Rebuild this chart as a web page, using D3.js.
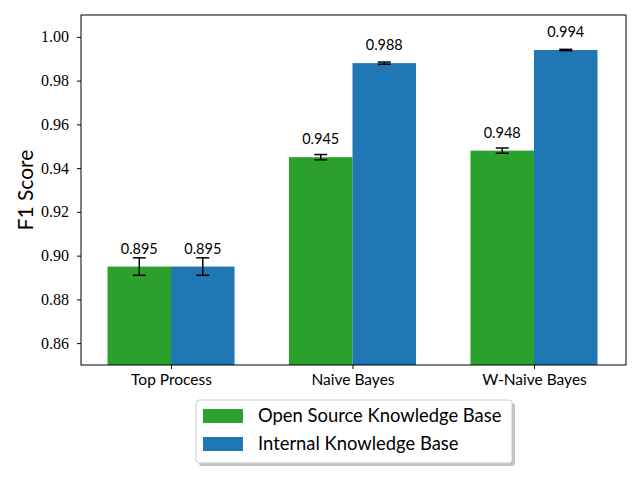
<!DOCTYPE html>
<html>
<head>
<meta charset="utf-8">
<script src="https://cdn.jsdelivr.net/npm/d3@7"></script>
<style>
  body { margin: 0; background: #fff; }
  svg { display: block; }
</style>
</head>
<body>
<div id="chart"></div>
<script>
// chart data
const categories = ["Top Process", "Naive Bayes", "W-Naive Bayes"];
const seriesNames = ["Open Source Knowledge Base", "Internal Knowledge Base"];
const openSource = [0.895, 0.945, 0.948];
const openSourceErr = [0.004, 0.0012, 0.0012];
const internal = [0.895, 0.988, 0.994];
const internalErr = [0.004, 0.0005, 0.0003];
const yTicks = [0.86, 0.88, 0.90, 0.92, 0.94, 0.96, 0.98, 1.00];
const colors = ["#2ca02c", "#1f77b4"];

const width = 640, height = 480;
const marginLeft = 81, marginRight = 14, marginTop = 15, marginBottom = 115;
const serif = "Liberation Serif";
const sans = "Lato";

const svg = d3.select("#chart").append("svg")
  .attr("width", width)
  .attr("height", height);

// x is a numeric scale like matplotlib: group centers at 0,1,2, bars width 0.35
const x = d3.scaleLinear()
  .domain([-0.496, 2.507])
  .range([marginLeft, width - marginRight]);
const barW = 0.35;

const y = d3.scaleLinear()
  .domain([0.85, 1.01])
  .range([height - marginBottom, marginTop]);

const series = [
  { name: seriesNames[0], values: openSource, errs: openSourceErr, offset: -barW / 2, color: colors[0] },
  { name: seriesNames[1], values: internal, errs: internalErr, offset: barW / 2, color: colors[1] }
];

// bars
series.forEach(s => {
  const g = svg.append("g");
  const rows = categories.map((c, i) => ({ i, v: s.values[i], e: s.errs[i] }));
  g.selectAll("rect")
    .data(rows)
    .join("rect")
    .attr("x", d => x(d.i + s.offset - barW / 2))
    .attr("width", d => x(barW) - x(0))
    .attr("y", d => y(d.v))
    .attr("height", d => y(0.85) - y(d.v))
    .attr("fill", s.color);

  // error bars
  const eb = g.append("g").attr("stroke", "#000").attr("stroke-width", 1.5);
  eb.selectAll("line.v")
    .data(rows)
    .join("line")
    .attr("x1", d => x(d.i + s.offset))
    .attr("x2", d => x(d.i + s.offset))
    .attr("y1", d => y(d.v - d.e))
    .attr("y2", d => y(d.v + d.e));
  [-1, 1].forEach(sign => {
    eb.append("g").selectAll("line")
      .data(rows)
      .join("line")
      .attr("x1", d => x(d.i + s.offset) - 6.5)
      .attr("x2", d => x(d.i + s.offset) + 6.5)
      .attr("y1", d => y(d.v + sign * d.e))
      .attr("y2", d => y(d.v + sign * d.e));
  });

  // value labels
  g.selectAll("text")
    .data(rows)
    .join("text")
    .attr("x", d => x(d.i + s.offset))
    .attr("y", d => y(d.v) - 13)
    .attr("text-anchor", "middle")
    .attr("font-family", sans)
    .attr("font-size", 14.5)
    .attr("fill", "#000")
    .text(d => d.v.toFixed(3));
});

// axes frame
svg.append("rect")
  .attr("x", marginLeft)
  .attr("y", marginTop)
  .attr("width", width - marginLeft - marginRight)
  .attr("height", height - marginTop - marginBottom)
  .attr("fill", "none")
  .attr("stroke", "#000")
  .attr("stroke-width", 1);

// y axis: ticks from d3, labels drawn separately in a serif face
svg.append("g")
  .attr("transform", `translate(${marginLeft},0)`)
  .call(d3.axisLeft(y).tickValues(yTicks).tickFormat("").tickSizeOuter(0).tickSize(4))
  .call(g => g.select(".domain").remove());

svg.append("g")
  .selectAll("text")
  .data(yTicks)
  .join("text")
  .attr("x", marginLeft - 12)
  .attr("y", d => y(d))
  .attr("dy", "0.35em")
  .attr("text-anchor", "end")
  .attr("font-family", serif)
  .attr("font-size", 16)
  .attr("fill", "#000")
  .text(d3.format(".2f"));

// x axis
svg.append("g")
  .attr("transform", `translate(0,${height - marginBottom})`)
  .call(d3.axisBottom(x).tickValues([0, 1, 2]).tickFormat(i => categories[i]).tickSize(4).tickPadding(5))
  .call(g => g.select(".domain").remove())
  .call(g => g.selectAll("text").attr("font-family", sans).attr("font-size", 15.5).attr("fill", "#000"));

// y label
svg.append("text")
  .attr("transform", `translate(33,${(marginTop + height - marginBottom) / 2}) rotate(-90)`)
  .attr("text-anchor", "middle")
  .attr("font-family", sans)
  .attr("font-size", 21)
  .text("F1 Score");

// legend
const legend = svg.append("g").attr("transform", "translate(196,400)");
legend.append("rect")
  .attr("x", 3).attr("y", 3)
  .attr("width", 316).attr("height", 63)
  .attr("rx", 3)
  .attr("fill", "#999").attr("opacity", 0.6);
legend.append("rect")
  .attr("width", 316).attr("height", 63)
  .attr("rx", 3)
  .attr("fill", "#fff").attr("stroke", "#ccc");
series.forEach((s, i) => {
  legend.append("rect")
    .attr("x", 7).attr("y", 9 + i * 28)
    .attr("width", 40).attr("height", 14)
    .attr("fill", s.color);
  legend.append("text")
    .attr("x", 62).attr("y", 22 + i * 28)
    .attr("font-family", sans)
    .attr("font-size", 18.4)
    .text(s.name);
});
</script>
</body>
</html>
